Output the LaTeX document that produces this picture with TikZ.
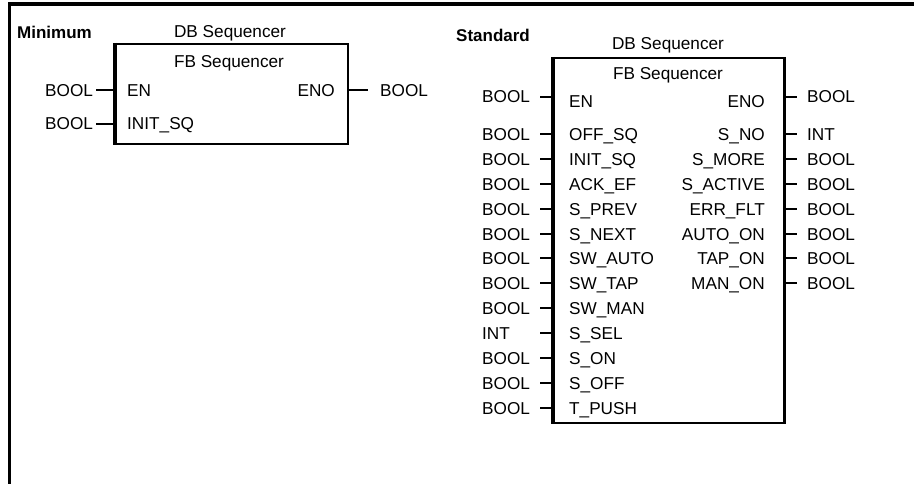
\documentclass[tikz,border=0pt]{standalone}
\usepackage{fontspec}
\setmainfont{Liberation Sans}
\begin{document}
\begin{tikzpicture}[x=1pt,y=-1pt,
  txt/.style={inner sep=0pt, font=\fontsize{17.2}{20}\selectfont, text=black},
  ttl/.style={inner sep=0pt, font=\fontsize{17}{20}\selectfont\bfseries, text=black, anchor=base west},
  lbl/.style={txt, anchor=base west},
  rlbl/.style={txt, anchor=base east},
  fbbox/.style={draw=black, line width=1.8pt, inner sep=0pt, anchor=north west},
  thickside/.style={draw=black, line width=3.2pt},
  stub/.style={draw=black, line width=2pt},
  frame/.style={draw=black, line width=3.5pt}]
\useasboundingbox (0,0) rectangle (914,484);
% outer frame (left and top only)
\coordinate (fA) at (9.5,484);
\coordinate (fB) at (9.5,4);
\coordinate (fC) at (914,4);
\draw[frame] (fA) -- (fB) -- (fC);

% ---------------- Minimum ----------------
\node[ttl] (minT) at (17,39) {Minimum};
\node[fbbox, minimum width=232pt, minimum height=100pt] (boxA) at (115,43) {};
\draw[thickside] (boxA.north west) -- (boxA.south west);
\node[txt, anchor=base] (dbA) at (230,38) {DB Sequencer};
\node[txt, anchor=base] (fbA) at (229,68) {FB Sequencer};
% EN row
\node[lbl] (aT1) at (45,97) {BOOL};
\node[lbl] (aP1) at (127,97) {EN};
\node[rlbl] (aQ1) at (335,97) {ENO};
\node[lbl] (aU1) at (380,97) {BOOL};
\coordinate (aS1) at (96,90);
\coordinate (aR1) at (368,90);
\draw[stub] (aS1) -- (aS1 -| boxA.west);
\draw[stub] (aR1 -| boxA.east) -- (aR1);
% INIT_SQ row
\node[lbl] (aT2) at (45,130) {BOOL};
\node[lbl] (aP2) at (127,130) {INIT\_SQ};
\coordinate (aS2) at (96,124);
\draw[stub] (aS2) -- (aS2 -| boxA.west);

% ---------------- Standard ----------------
\node[ttl] (stdT) at (456,42) {Standard};
\node[fbbox, minimum width=230pt, minimum height=365pt] (boxB) at (553,57) {};
\draw[thickside] (boxB.north west) -- (boxB.south west);
\draw[draw=black, line width=2.6pt] (boxB.north east) -- (boxB.south east);
\node[txt, anchor=base] (dbB) at (668,50) {DB Sequencer};
\node[txt, anchor=base] (fbB) at (668,80) {FB Sequencer};
% EN row
\node[lbl] (bT0) at (482,103) {BOOL};
\node[lbl] (bP0) at (569,108) {EN};
\node[rlbl] (bQ0) at (765,108) {ENO};
\node[lbl] (bU0) at (807,103) {BOOL};
\coordinate (bS0) at (540,97);
\coordinate (bR0) at (797,97);
\draw[stub] (bS0) -- (bS0 -| boxB.west);
\draw[stub] (bR0 -| boxB.east) -- (bR0);
% inputs
\foreach \k/\typ/\nm in {1/BOOL/OFF\_SQ, 2/BOOL/INIT\_SQ, 3/BOOL/ACK\_EF, 4/BOOL/S\_PREV,
  5/BOOL/S\_NEXT, 6/BOOL/SW\_AUTO, 7/BOOL/SW\_TAP, 8/BOOL/SW\_MAN, 9/INT/S\_SEL,
  10/BOOL/S\_ON, 11/BOOL/S\_OFF, 12/BOOL/T\_PUSH}{
  \pgfmathsetmacro\ys{134+24.9*(\k-1)}
  \node[lbl] (bT\k) at (482,{\ys+6.5}) {\typ};
  \node[lbl] (bP\k) at (569,{\ys+6.5}) {\nm};
  \coordinate (bS\k) at (540,\ys);
  \draw[stub] (bS\k) -- (bS\k -| boxB.west);
}
% outputs
\foreach \k/\typ/\nm in {1/INT/S\_NO, 2/BOOL/S\_MORE, 3/BOOL/S\_ACTIVE, 4/BOOL/ERR\_FLT,
  5/BOOL/AUTO\_ON, 6/BOOL/TAP\_ON, 7/BOOL/MAN\_ON}{
  \pgfmathsetmacro\ys{134+24.9*(\k-1)}
  \node[rlbl] (bQ\k) at (765,{\ys+6.5}) {\nm};
  \node[lbl] (bU\k) at (807,{\ys+6.5}) {\typ};
  \coordinate (bR\k) at (797,\ys);
  \draw[stub] (bR\k -| boxB.east) -- (bR\k);
}
\end{tikzpicture}
\end{document}
